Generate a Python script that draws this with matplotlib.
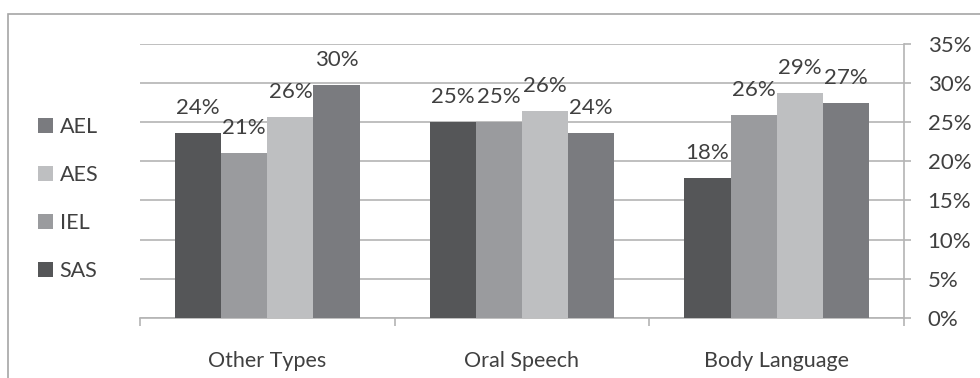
import numpy as np
import matplotlib
matplotlib.use("Agg")
import matplotlib.pyplot as plt
from matplotlib.patches import Patch, Rectangle
from matplotlib.ticker import PercentFormatter, MultipleLocator

categories = ["Other Types", "Oral Speech", "Body Language"]
series = ["SAS", "IEL", "AES", "AEL"]
sas = [0.236, 0.250, 0.178]
iel = [0.210, 0.250, 0.259]
aes = [0.256, 0.264, 0.287]
ael = [0.297, 0.236, 0.274]
colors = ["#555658", "#9a9b9e", "#bebfc1", "#7a7b7f"]

plt.rcParams["font.family"] = ["Lato", "DejaVu Sans"]
txt = "#404040"
grid = "#b4b4b4"

fig = plt.figure(figsize=(9.8, 3.78), dpi=100)
ax = fig.add_axes([140 / 980, 1 - 318 / 378, 764 / 980, 274.3 / 378])

# outer chart border
fig.patches.append(Rectangle((8 / 980, -0.1), 1.2, 1 - 14 / 378 + 0.1,
                             transform=fig.transFigure, fill=False,
                             edgecolor="#a6a6a6", linewidth=1.2))

x = np.arange(len(categories))
w = 0.181
for i, (name, vals) in enumerate(zip(series, [sas, iel, aes, ael])):
    pos = x + (i - 1.5) * w
    bars = ax.bar(pos, vals, width=w, color=colors[i], label=name, zorder=3)
    for b, v in zip(bars, vals):
        ax.annotate(f"{v:.0%}", (b.get_x() + b.get_width() / 2, v),
                    xytext=(0, 14), textcoords="offset points",
                    ha="center", va="baseline", fontsize=16, color=txt)

ax.set_xlim(-0.5, 2.5)
ax.set_ylim(0, 0.35)
ax.yaxis.set_major_locator(MultipleLocator(0.05))
ax.yaxis.set_major_formatter(PercentFormatter(1.0, decimals=0))
ax.yaxis.tick_right()
ax.grid(axis="y", color=grid, linewidth=1.2, zorder=0)
ax.set_axisbelow(True)

for s in ["left", "top"]:
    ax.spines[s].set_visible(False)
for s in ["right", "bottom"]:
    ax.spines[s].set_color(grid)
    ax.spines[s].set_linewidth(1.2)

ax.tick_params(axis="y", which="major", length=5, width=1.2, color=grid,
               pad=12, labelsize=16, labelcolor=txt)

# boundary ticks on the category axis, labels in between
ax.set_xticks([-0.5, 0.5, 1.5, 2.5])
ax.set_xticklabels([])
ax.set_xticks(x, minor=True)
ax.set_xticklabels(categories, minor=True)
ax.tick_params(axis="x", which="major", length=6, width=1.2, color=grid)
ax.tick_params(axis="x", which="minor", length=0, pad=24,
               labelsize=15.5, labelcolor=txt)

handles = [Patch(facecolor=c, label=s) for s, c in zip(series, colors)]
fig.legend(handles[::-1], series[::-1], loc="center left",
           bbox_to_anchor=(38 / 980, 1 - 199 / 378), frameon=False,
           borderpad=0, borderaxespad=0,
           fontsize=15.5, labelcolor=txt, handlelength=0.7, handleheight=0.7,
           handletextpad=0.3, labelspacing=1.3)

fig.savefig("out.png", dpi=100)
